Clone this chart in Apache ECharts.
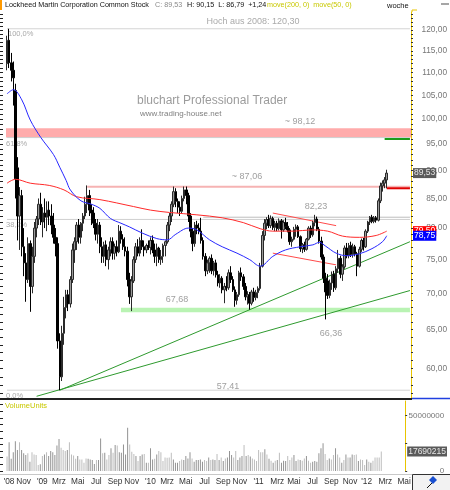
<!DOCTYPE html>
<html><head><meta charset="utf-8">
<script src="https://cdn.jsdelivr.net/npm/echarts@6/dist/echarts.min.js"></script>
<style>html,body{margin:0;padding:0;background:#fff}#c{width:450px;height:490px}</style>
</head><body><div id="c"></div>
<script>
// ---------- DATA ----------
const firstWeekMonday = [2008, 8, 15];   // 2008-09-15
const blankWeeksAfter = 11;
// weekly candles: [open, high, low, close]
const weeklyOHLC = [
 [112,118.6,110.5,117.5],[117.5,120.3,111,112.2],[112.2,114.5,108,110.5],[110.5,112.5,102.8,108.8],[106,107.5,85,88.5],
 [90.5,92.5,78,82],[82,87,76.5,85.5],[85.5,86.5,75.5,77],[77,80,72.5,74.5],[74.5,76,68.8,72],
 [72,78.5,71.5,77.5],[77.5,78,67.4,71],[71,77,70,75.5],[75.5,81,74.5,80],[80,82,78.5,81.5],
 [81.5,85,80.5,84],[84,86,80.5,81],[81,83.5,78.5,82.5],[82.5,85,80,81.8],[81.8,84.5,79.5,83],
 [83,84.5,80.5,82],[82,84,79,80.5],[80.5,82.5,77.5,78.5],[78.5,80,75.5,77.5],[77.5,78.5,62.5,63.5],
 [63.5,64.5,57.41,59],[59,65.5,58.5,64.5],[64.5,69.5,63,68],[68,70.5,66.5,69.8],[69.8,70.5,67.5,68.5],
 [68.5,72.5,68,72],[72,77.5,71.5,76.5],[76.5,78.5,74.5,77.8],[77.8,81,76.5,80.5],[80.5,81.5,77.5,78.5],
 [78.5,81,77.5,80.8],[80.8,82.5,79.5,82],[82,85.3,81.5,84],[84,87.3,82.5,85.5],[85.5,86.5,82,83],
 [83,84,80.5,82.5],[82.5,83.5,80,80.8],[80.8,81.5,78,79],[79,81.5,77.5,80.5],[80.5,81,76,77],
 [77,78.5,74.5,75.5],[75.5,77.8,74.5,77.3],[77.3,78,74,75],[75,77,73.5,76.5],[76.5,78.5,75.5,77.8],
 [77.8,78.5,75,76],[76,77.5,75,77],[77,78,75.5,76.2],[76.2,80.5,76,79.5],[79.5,80.3,77.5,78.2],
 [78.2,79,76.5,77],[77,78.5,75.5,76.3],[76.3,77,71,72],[72,73,68.5,69.5],[69.5,72.5,67.5,71.8],
 [71.8,75.5,71.5,75],[75,77.6,74.5,77],[77,78.2,75.5,76],[76,78.5,75.5,78],[78,79.8,76.5,77],
 [77,78,75.5,76.5],[76.5,77.5,76,77.2],[77.2,78,76.5,76.9],[76.9,78.5,75.8,78],[78,78.8,76,76.5],
 [76.5,77.5,74.5,75.5],[75.5,77.5,74,76.8],[76.8,77,74.5,75],[75,76.5,74.2,75.5],[75.5,77.5,74.5,77.2],
 [77.2,78,75.5,77.8],[77.8,81,77.5,80.5],[80.5,82.5,79.5,82],[82,84.5,81,84],[84,87.1,83.5,86.2],
 [86.2,86.8,83.5,84.5],[84.5,85,82.5,83.5],[83.5,84.5,82,82.8],[82.8,85.5,82.5,85],[85,87.1,84.5,86.5],
 [86.5,87.1,84,85.5],[85.5,86,81,82],[82,82.5,78.5,79.5],[79.5,80,76.3,77.5],[77.5,81,77,80.5],
 [80.5,81.2,79,80],[80,80.8,79,79.5],[79.5,81.7,77.5,78],[78,78.5,75,75.5],[75.5,76,72.5,73.3],
 [73.3,75,72.8,74.5],[74.5,75.5,73,75.2],[75.2,75.8,72.8,73.3],[73.3,74.8,72.6,74.5],[74.5,75,72.3,72.7],
 [72.7,73.3,71,71.5],[71.5,72.8,70.8,72.2],[72.2,72.5,70,70.5],[70.5,71.5,68.6,71],[71,72.5,70.3,70.8],
 [70.8,73.5,70.5,73],[73,74,71.5,72],[72,72.5,70.2,70.5],[70.5,71,68.1,69],[69,70.2,68.4,69.8],
 [69.8,73.3,69.5,73],[73,73.8,71.8,72.4],[72.4,72.8,70.5,71],[71,71.5,69,69.5],[69.5,70.3,68.4,69.8],
 [69.8,70.2,67.7,68.6],[68.6,70.5,68.3,70.2],[70.2,70.8,68.8,69.4],[69.4,70.5,69,70.1],[70.1,71,69.3,70.7],
 [70.7,74.5,70.4,74],[74,79.5,73.8,78.8],[78.8,81.5,78,80.8],[80.8,81.8,79.8,81.4],[81.4,82.2,80,80.4],
 [80.4,82.1,80,81.6],[81.6,81.9,79.7,80.1],[80.1,81.2,79.5,80.8],[80.8,81.2,79.5,79.9],[79.9,81.6,79.6,81.2],
 [81.2,81.5,78.3,79.7],[79.7,81.3,79.4,80.9],[80.9,81.7,79.8,80.3],[80.3,81,79.3,79.7],[79.7,80,77.3,77.8],
 [77.8,78.6,77,78.2],[78.2,80.2,78,79.8],[79.8,80.6,78.6,80.2],[80.2,80.5,78.4,78.6],[78.6,78.8,76.2,76.7],
 [76.7,77.6,76,77.3],[77.3,77.8,76.2,76.6],[76.6,78.4,76.4,78.2],[78.2,80.3,78,80],[80,80.4,78.4,78.9],
 [78.9,81.2,78.6,80.9],[80.9,82.2,80.3,81.5],[81.5,81.9,79.5,79.8],[79.8,80.2,77.5,77.9],[77.9,78.6,75,75.4],
 [75.4,75.8,71.5,72.2],[72.2,73,66.36,70.2],[71.8,72.8,69.2,69.7],[69.7,72,69.3,71.5],[71.5,73.2,70.5,72.8],
 [72.8,73.3,70.2,70.8],[70.8,74,70.5,73.6],[73.6,76.5,73,75.2],[75.2,75.6,72.2,72.8],[72.8,74.3,71.8,73.9],
 [73.9,77.2,73.6,76.8],[76.8,77.6,75.2,75.6],[75.6,77.6,75.2,77.2],[77.2,77.8,75.4,75.8],[75.8,77.5,75.3,77],
 [77,77.3,75.5,75.9],[75.9,76.2,72.5,74],[74,77,73.8,76.6],[76.6,78.3,76.2,78],[78,78.4,76.4,77],
 [77,79.8,76.8,79.5],[79.5,81.2,79.2,81],[81,82,80.5,81.8],[81.8,82.2,80.8,81.1],[81.1,82,80.8,81.7],
 [81.7,82,80.9,81.3],[81.3,85,81.1,84.6],[84.6,87.8,84.2,87.2],[87.2,88.2,86.2,87.7],[87.7,88.8,86.8,88.29],
 [88.29,90.15,86.79,89.53]
];
// weekly volume in millions of shares
const weeklyVolumeMio = [
 13,26,11,17,27,19,26,19,16,14.5, 16,8.4,17,15,14.5,5.4,6,13.5,15,17,
 13.5,18,17,14.5,23,29,21,19,18,19, 26,15,14,11,13.5,10.5,10.5,7.5,11.4,11,
 10.5,10,6.3,10,10,29.5,16,16.5,10.5,14.5, 20.5,16.5,23.5,23,17,16.5,24,15,39,24,
 17.5,15.4,13.5,9,13.5,15,15.4,7.5,7.5,20.5, 10.5,11,15,18,17,9,12.3,12,12.3,16.5,
 10.5,7.5,7.5,9,10.5,10,13.5,11.4,17,11.4, 8.4,10,10,10.5,8.4,10,9,12.3,10,10.5,
 10,15.4,10,12.3,9,11.4,12.3,18,14.5,12.3, 18,10,12.3,13.5,23.5,13.5,14.5,13,11.4,10.5,
 9,19,17,17,19.6,15,11,9.3,7.5,9.3, 10,16.5,7.5,9.3,9,13.5,10,12.3,14.5,9,
 10.5,10,9.3,11.4,13.5,9.3,7.5,8.4,9,8.4, 16,20.5,25,15.4,10,11.4,10.5,14.5,20.5,15,
 12.3,7.5,10,15,12.3,12.3,15,14.5,15,9, 10.5,10,5.4,10.5,8.4,7.5,9.3,12.3,12.3,12.3,
 17.69
];
// moving averages read at selected weeks: [weekIndex, price]
const ma50Points = [[0,105.3],[3,106.2],[7,104.0],[11,99.8],[16,96.3],[22,93.0],[25,90.6],[28,88.2],[30,86.5],[35,84.6],
 [40,84.0],[44,83.3],[49,81.6],[54,80.8],[58,80.2],[64,79.2],[71,78.3],[76,78.1],[80,79.0],[86,80.0],[90,79.7],[96,78.1],
 [102,77.0],[109,76.0],[115,75.0],[120,74.0],[126,75.5],[132,76.5],[139,77.0],[145,77.3],[148,77.7],[151,77.1],[156,76.0],
 [161,75.6],[167,75.9],[173,76.7],[178,77.8],[180,78.75]];
const ma200Points = [[0,87.7],[4,88.4],[11,87.7],[20,87.3],[27,86.5],[33,85.3],[44,84.8],[60,83.6],[68,83.0],[77,82.6],
 [90,82.2],[102,81.7],[112,80.9],[120,79.9],[126,79.5],[136,79.5],[144,79.7],[152,79.5],[159,78.7],[167,78.5],[175,78.8],[180,79.5]];
// drawn trend lines: [weekIndex, price]
const trendLower = [[14,56.7],[191,70.4]];
const trendUpper = [[25,57.4],[191,77.8]];
const channelTop = [[126,82.5],[156,80.4]];
const channelBottom = [[126,76.0],[156,74.2]];
// levels
const high2008 = 120.30, low2009 = 57.41, fib618 = 96.28, fib382 = 81.43;
const resistZone = [96.28, 98.12];
const supportZone = [67.35, 67.95], supportStartWeek = 54;
const resist87 = 87.06, resist87StartWeek = 38;
const level82 = 81.8, level82StartWeek = 93;
const stopLevel = 86.79, targetLevel = 96.0;
const lastClose = 89.53, lastMa50 = 78.75, lastMa200 = 79.5, lastVolume = 17690215;
// axes
const priceTickLabels = [60,65,70,75,80,85,90,95,100,105,110,115,120];
const priceRange = [56.5, 124.5];
const volumeTickLabels = [0, 50000000];
const volumeMax = 63300000;
const monthNames = ['Jan','Feb','Mrz','Apr','Mai','Jun','Jul','Aug','Sep','Okt','Nov','Dez'];

// ---------- BUILD ----------
const L = Math.log;
const FONT = 'Liberation Sans, Arial, sans-serif';
const fmt = v => v.toFixed(2).replace('.', ',');
const nWeeks = weeklyOHLC.length + blankWeeksAfter;
const lastIdx = nWeeks - 1;
const weeks = [];
const t0 = Date.UTC(firstWeekMonday[0], firstWeekMonday[1], firstWeekMonday[2]);
for (let k = 0; k < nWeeks; k++) weeks.push(new Date(t0 + k * 7 * 864e5).toISOString().slice(0, 10));
function showLabel(idx) {
  if (idx === 0) return true;
  const d = new Date(weeks[idx] + 'T00:00:00Z');
  return d.getUTCDate() <= 7 && d.getUTCMonth() % 2 === 0;
}
function labelText(value, idx) {
  const d = new Date(value + 'T00:00:00Z');
  const m = d.getUTCMonth();
  if (idx === 0 || m === 0) return "'" + String(d.getUTCFullYear()).slice(2);
  return monthNames[m];
}
const intTicks = [];
for (let p = Math.ceil(priceRange[0]); p <= priceRange[1]; p++) intTicks.push(L(p));
const volTicks = [];
for (let v = 0; v <= volumeMax; v += 6000000) volTicks.push(v);

const candleData = weeklyOHLC.map(r => [L(r[0]), L(r[3]), L(r[2]), L(r[1])]);
const volData = weeklyVolumeMio.map((v, i) => ({
  value: v * 1e6,
  itemStyle: { color: weeklyOHLC[i][3] >= weeklyOHLC[i][0] ? '#bdbdbd' : '#939393' }
}));
const toLn = pts => pts.map(p => [p[0], L(p[1])]);
const hLine = (v, from, to) => [[from, L(v)], [to, L(v)]];

function lineSeries(data, color, width, z, extra) {
  return Object.assign({
    type: 'line', xAxisIndex: 0, yAxisIndex: 0, data: data, showSymbol: false, symbol: 'none',
    lineStyle: { color: color, width: width }, z: z, silent: true, animation: false
  }, extra || {});
}
// an axis that only shows one boxed value label on the right edge
function boxAxis(grid, min, max, value, text, bg, fg, z) {
  return { type: 'value', gridIndex: grid, position: 'right', min: min, max: max, z: z,
    splitLine: { show: false }, axisLine: { show: false }, axisTick: { show: false },
    axisLabel: { customValues: [value], formatter: () => text, backgroundColor: bg, color: fg,
      fontSize: 8.5, fontFamily: FONT, padding: [1, 1, 0, 1], margin: 2, align: 'left' } };
}
function txt(x, y, s, size, color, align, extra) {
  return { type: 'text', x: x, y: y, z: 0, silent: true,
    style: Object.assign({ text: s, fontSize: size, fontFamily: FONT, fill: color, align: align || 'left', verticalAlign: 'middle' }, extra || {}) };
}
function ln(x1, y1, x2, y2, color, w) {
  return { type: 'line', silent: true, z: 10, shape: { x1: x1, y1: y1, x2: x2, y2: y2 }, style: { stroke: color, lineWidth: w || 1 } };
}

const pMin = L(priceRange[0]), pMax = L(priceRange[1]);
const chart = echarts.init(document.getElementById('c'), null, { renderer: 'canvas' });
const option = {
  animation: false,
  backgroundColor: '#fff',
  grid: [
    { left: 6, right: 38, top: 12, bottom: 92 },
    { left: 6, right: 38, top: 401, bottom: 19 }
  ],
  xAxis: [
    { type: 'category', gridIndex: 0, data: weeks, boundaryGap: true, show: false },
    { type: 'category', gridIndex: 1, data: weeks, boundaryGap: true,
      axisLine: { show: false }, axisTick: { show: false },
      axisLabel: { interval: (idx) => showLabel(idx), formatter: labelText, fontSize: 8.3, color: '#333',
        fontFamily: FONT, margin: 7, padding: [0, 0, 0, 4] } }
  ],
  yAxis: [
    { type: 'value', gridIndex: 0, position: 'right', min: pMin, max: pMax,
      splitLine: { show: false },
      axisLine: { show: true, lineStyle: { color: '#e8c400', width: 1 } },
      axisTick: { show: true, customValues: intTicks, length: 2, lineStyle: { color: '#333' } },
      axisLabel: { customValues: priceTickLabels.map(L), formatter: v => fmt(Math.exp(v)), align: 'right',
        margin: 36, fontSize: 8.3, color: '#777', fontFamily: FONT } },
    { type: 'value', gridIndex: 0, position: 'left', offset: 6, min: pMin, max: pMax,
      splitLine: { show: false }, axisLine: { show: false },
      axisTick: { show: true, inside: true, customValues: intTicks, length: 3, lineStyle: { color: '#222' } },
      axisLabel: { show: false } },
    { type: 'value', gridIndex: 1, position: 'right', min: 0, max: volumeMax,
      splitLine: { show: false },
      axisLine: { show: true, lineStyle: { color: '#e8c400', width: 1 } },
      axisTick: { show: true, customValues: [0, 25000000, 50000000], length: 2, lineStyle: { color: '#333' } },
      axisLabel: { customValues: volumeTickLabels, formatter: v => String(v), align: 'right', margin: 39,
        fontSize: 8, color: '#777', fontFamily: FONT } },
    { type: 'value', gridIndex: 1, position: 'left', offset: 6, min: 0, max: volumeMax,
      splitLine: { show: false }, axisLine: { show: false },
      axisTick: { show: true, inside: true, customValues: volTicks, length: 3, lineStyle: { color: '#222' } },
      axisLabel: { show: false } },
    boxAxis(0, pMin, pMax, L(lastClose), fmt(lastClose), '#5a5a5a', '#e6e6e6', 5),
    boxAxis(0, pMin, pMax, L(lastMa200), fmt(lastMa200), '#ff0000', '#fff', 6),
    boxAxis(0, pMin, pMax, L(lastMa50), fmt(lastMa50), '#0000ff', '#fff', 7),
    boxAxis(1, 0, volumeMax, lastVolume, String(lastVolume), '#5a5a5a', '#e6e6e6', 5)
  ],
  series: [
    // zones
    lineSeries(hLine(fib618, 0, lastIdx), '#cfcfcf', 1, 1, {
      markArea: { silent: true, itemStyle: { color: '#ffabab' },
        data: [[{ yAxis: L(resistZone[0]) }, { yAxis: L(resistZone[1]) }]] } }),
    lineSeries(hLine(supportZone[0], supportStartWeek, lastIdx), 'rgba(0,0,0,0)', 0, 1, {
      markArea: { silent: true, itemStyle: { color: '#b9f3b3' },
        data: [[{ xAxis: weeks[supportStartWeek], yAxis: L(supportZone[0]) }, { xAxis: weeks[lastIdx], yAxis: L(supportZone[1]) }]] } }),
    // fibonacci lines
    lineSeries(hLine(high2008, 0, lastIdx), '#d4d4d4', 1, 1),
    lineSeries(hLine(fib382, 0, lastIdx), '#cfcfcf', 1, 1),
    lineSeries(hLine(low2009, 0, lastIdx), '#d4d4d4', 1, 1),
    lineSeries(hLine(level82, level82StartWeek, lastIdx), '#bdbdbd', 1, 1),
    lineSeries(hLine(resist87, resist87StartWeek, lastIdx), '#f6b3b3', 2, 1),
    // trend lines
    lineSeries(toLn(trendLower), '#2e9a2e', 1, 3),
    lineSeries(toLn(trendUpper), '#2e9a2e', 1, 3),
    lineSeries(toLn(channelTop), '#ff4a4a', 1, 3),
    lineSeries(toLn(channelBottom), '#ff4a4a', 1, 3),
    // right side markers
    lineSeries(hLine(stopLevel, weeklyOHLC.length - 1, lastIdx), '#e00000', 2, 3),
    lineSeries(hLine(targetLevel, weeklyOHLC.length - 2, lastIdx), '#1c9c1c', 2, 3),
    // candles
    { type: 'candlestick', xAxisIndex: 0, yAxisIndex: 0, data: candleData, barWidth: 2, z: 5, silent: true,
      itemStyle: { color: '#9a9a9a', color0: '#000', borderColor: '#2a2a2a', borderColor0: '#000', borderWidth: 1 } },
    // moving averages
    lineSeries(toLn(ma200Points), '#ff2a2a', 1, 6, { smooth: 0.35 }),
    lineSeries(toLn(ma50Points), '#2828ff', 1, 7, { smooth: 0.35 }),
    // volume
    { type: 'bar', xAxisIndex: 1, yAxisIndex: 2, data: volData, barWidth: 1, silent: true, z: 3 }
  ],
  graphic: [
    { type: 'rect', silent: true, z: 10, shape: { x: 0, y: 0, width: 2, height: 10 }, style: { fill: '#ff9900' } },
    txt(5, 5.5, 'Lockheed Martin Corporation Common Stock', 7.2, '#111'),
    txt(155, 5.5, 'C: 89,53', 7.2, '#8a8a8a'),
    txt(187, 5.5, 'H: 90,15  L: 86,79  +1,24', 7.2, '#111'),
    txt(267, 5.5, 'move(200, 0)  move(50, 0)', 7.2, '#c8c800'),
    txt(387, 5.5, 'woche', 7.5, '#111'),
    ln(441, 4, 449, 4, '#888', 1.5),
    ln(412, 10, 417, 10, '#e8c400', 1),
    ln(412, 10, 412, 12, '#e8c400', 1),
    txt(253, 22, 'Hoch aus 2008: 120,30', 9, '#aaa', 'center'),
    txt(137, 101, 'bluchart Professional Trader', 12, '#9c9c9c'),
    txt(140, 114, 'www.trading-house.net', 8, '#808080'),
    txt(8, 34, '100,0%', 7.5, '#aaa'),
    txt(6, 144, '61,8%', 7.5, '#aaa'),
    txt(6, 225, '38,2%', 7.5, '#aaa'),
    txt(6, 395.5, '0,0%', 7.5, '#aaa'),
    txt(300, 122, '~ 98,12', 9, '#a0a0a0', 'center'),
    txt(247, 177, '~ 87,06', 9, '#a0a0a0', 'center'),
    txt(316, 207, '82,23', 9, '#a0a0a0', 'center'),
    txt(177, 300, '67,68', 9, '#a0a0a0', 'center'),
    txt(331, 334, '66,36', 9, '#a0a0a0', 'center'),
    txt(228, 387, '57,41', 9, '#a0a0a0', 'center'),
    ln(0, 399, 412, 399, '#222', 2),
    ln(412, 398.5, 450, 398.5, '#2040e0', 1.5),
    txt(5, 405.5, 'VolumeUnits', 7.5, '#c8c800'),
    ln(0, 474.5, 412, 474.5, '#c8c8c8', 1),
    { type: 'rect', silent: true, z: 9, shape: { x: 412.5, y: 474.5, width: 38, height: 16 }, style: { fill: '#f2f2f2', stroke: '#333', lineWidth: 1 } },
    ln(427, 488, 436, 479, '#111', 1),
    { type: 'polygon', silent: true, z: 11, shape: { points: [[433, 476], [437, 480], [433, 484], [429, 480]] }, style: { fill: '#1a50d0' } }
  ]
};
chart.setOption(option);
</script></body></html>
